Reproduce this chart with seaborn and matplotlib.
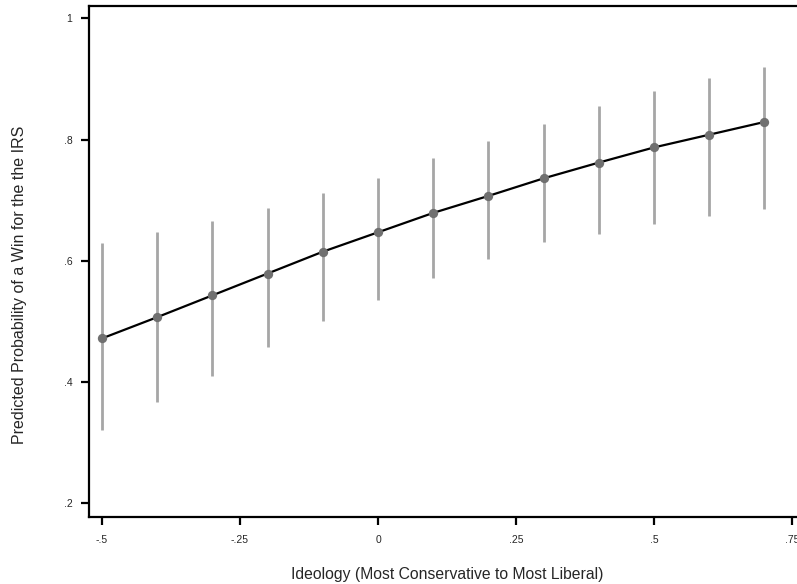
import matplotlib
matplotlib.use("Agg")
import matplotlib.pyplot as plt
import seaborn as sns
import pandas as pd

ideology = [-0.5, -0.4, -0.3, -0.2, -0.1, 0.0, 0.1, 0.2, 0.3, 0.4, 0.5, 0.6, 0.7]
prob = [0.472, 0.507, 0.543, 0.579, 0.615, 0.647, 0.679, 0.707, 0.736, 0.762, 0.787, 0.808, 0.829]
upper = [0.630, 0.647, 0.666, 0.687, 0.712, 0.737, 0.769, 0.798, 0.826, 0.855, 0.880, 0.902, 0.920]
lower = [0.321, 0.367, 0.410, 0.457, 0.500, 0.535, 0.571, 0.603, 0.631, 0.645, 0.661, 0.674, 0.685]

xticks = [-0.5, -0.25, 0, 0.25, 0.5, 0.75]
xticklabels = ["-.5", "-.25", "0", ".25", ".5", ".75"]
yticks = [0.2, 0.4, 0.6, 0.8, 1.0]
yticklabels = [".2", ".4", ".6", ".8", "1"]

df = pd.DataFrame({"ideology": ideology, "prob": prob, "upper": upper, "lower": lower})

sns.set_style("white")
plt.rcParams["font.family"] = ["Liberation Sans", "DejaVu Sans"]

W, H = 797, 584
fig = plt.figure(figsize=(W / 100, H / 100), dpi=100)
left, right, top, bottom = 89, 805, 6, 516.7
ax = fig.add_axes([left / W, 1 - bottom / H, (right - left) / W, (bottom - top) / H])

ax.vlines(df["ideology"], df["lower"], df["upper"], color="#a6a6a6", linewidth=2.0, zorder=1)
sns.lineplot(data=df, x="ideology", y="prob", ax=ax, color="black", linewidth=1.6, zorder=2)
sns.scatterplot(data=df, x="ideology", y="prob", ax=ax, color="#707070", s=45,
                edgecolor="#707070", linewidth=0, zorder=3)

ax.set_xlim(-0.5 - 13 / 552, -0.5 + (right - 102) / 552)
ax.set_ylim(0.2 - 13.4 / 606.25, 1 + 12.3 / 606.25)

ax.set_xticks(xticks)
ax.set_xticklabels(xticklabels, fontsize=7.5)
ax.set_yticks(yticks)
ax.set_yticklabels(yticklabels, fontsize=7.5)

for s in ["left", "top", "bottom", "right"]:
    ax.spines[s].set_color("black")
    ax.spines[s].set_linewidth(1.6)

ax.tick_params(axis="both", direction="out", length=6, width=1.6, color="black", bottom=True, left=True)
ax.tick_params(axis="x", pad=7)
ax.tick_params(axis="y", pad=6)

ax.set_xlabel("Ideology (Most Conservative to Most Liberal)", fontsize=11.3, labelpad=16)
ax.set_ylabel("Predicted Probability of a Win for the the IRS", fontsize=11.5)
ax.yaxis.set_label_coords((27 - left) / (right - left), (bottom - 285) / (bottom - top))

fig.savefig("out.png", dpi=100)
